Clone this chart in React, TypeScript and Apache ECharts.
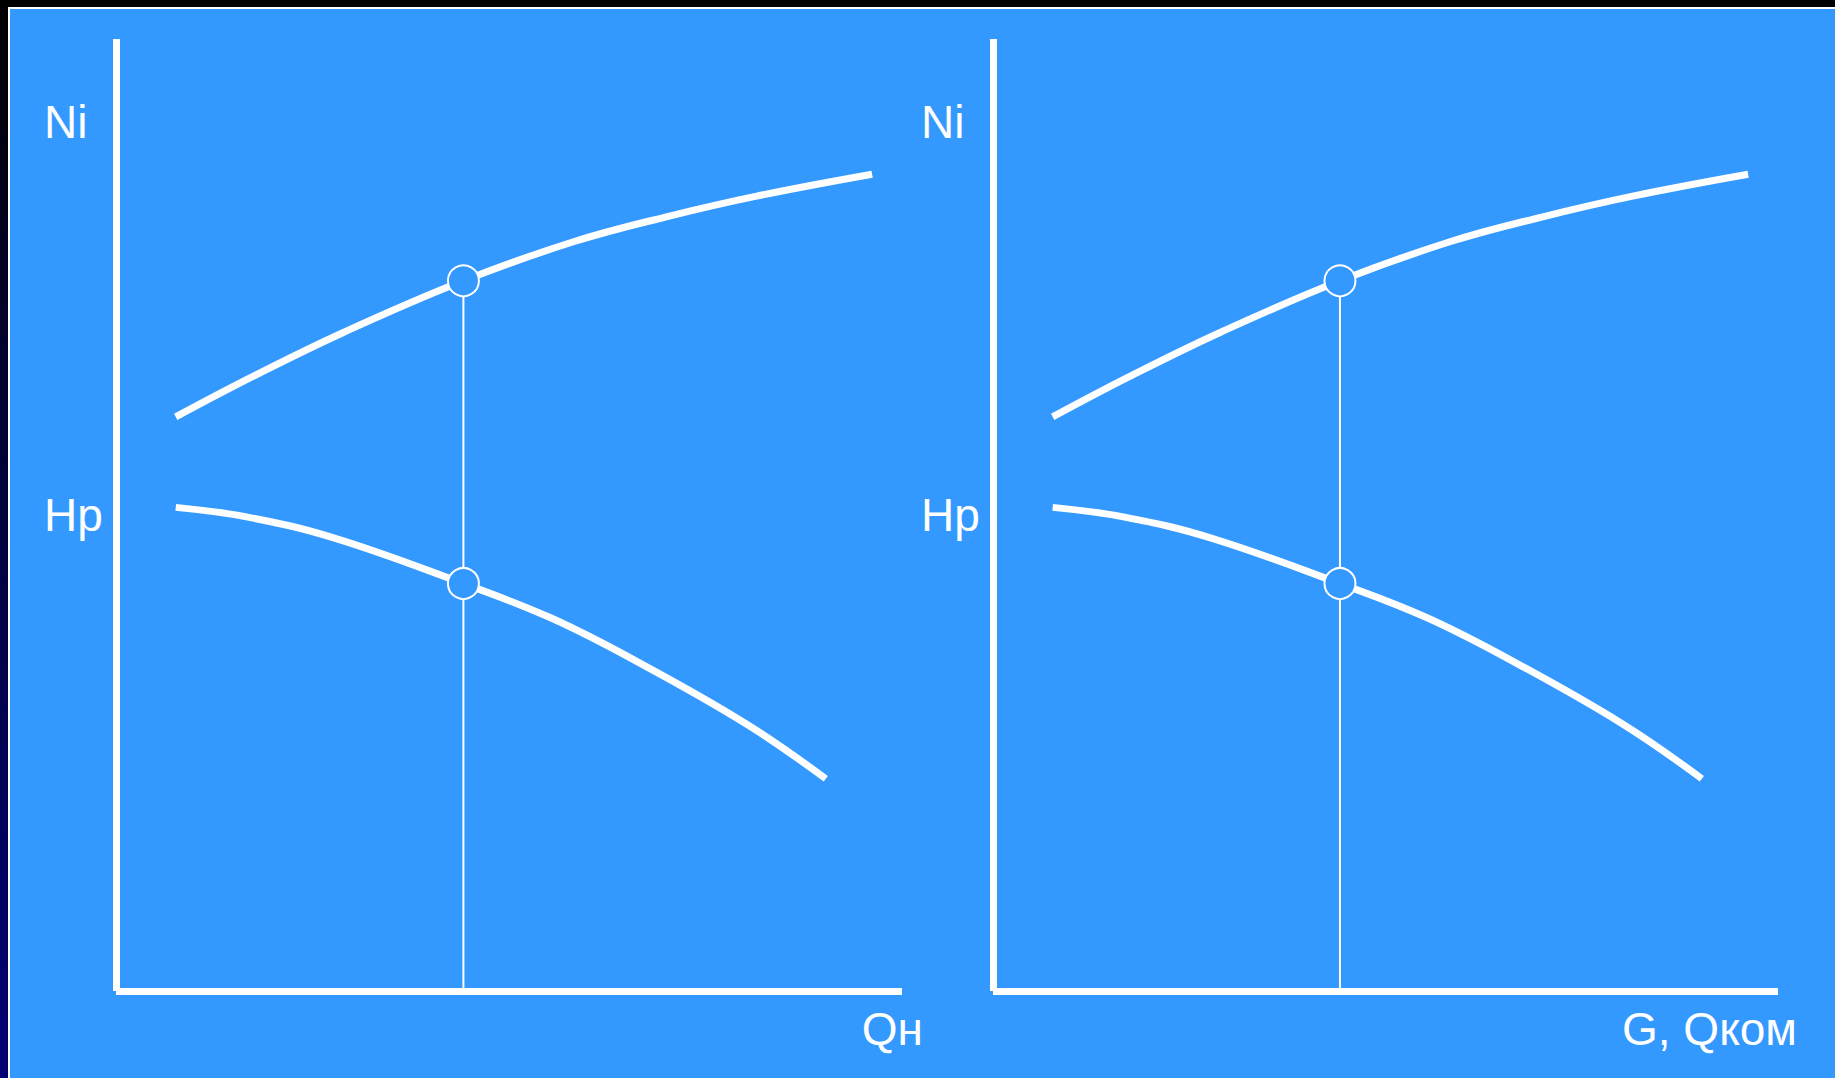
import React, { useEffect, useRef } from "react";
import * as echarts from "echarts";

// Curve data (arbitrary units: x = flow 0..100, y = 0..100)
const niCurve: [number, number][] = [
  [7.6, 60.3], [17.3, 64.5], [29.0, 69.2], [44.2, 74.6],
  [58.2, 78.7], [69.9, 81.3], [81.5, 83.5], [96.2, 85.8],
];
const hpCurve: [number, number][] = [
  [7.6, 50.8], [16.6, 49.8], [27.7, 47.6], [44.2, 42.8],
  [55.3, 39.2], [66.3, 34.6], [80.1, 28.1], [90.3, 22.3],
];
const operatingQ = 44.2;
const operatingNi = 74.6;
const operatingHp = 42.8;

const yLabelNames = ["Ni", "Hp"];
const yLabelValues = [91.3, 50.0];
const xAxisNames = ["Qн", "G, Qком"];

const BLUE = "#3399FF";
const WHITE = "#FFFFFF";
const FONT = "'Liberation Sans', Arial, Helvetica, sans-serif";

const panels = [
  { left: 116, width: 786 },
  { left: 993, width: 785 },
];
const GRID_TOP = 39;
const GRID_HEIGHT = 952;

export default function App() {
  const ref = useRef<HTMLDivElement>(null);

  useEffect(() => {
    if (!ref.current) return;
    const chart = echarts.init(ref.current, null, { renderer: "svg" });

    const grids = panels.map((p) => ({
      left: p.left,
      top: GRID_TOP,
      width: p.width,
      height: GRID_HEIGHT,
      containLabel: false,
    }));

    const axisLineStyle = { color: WHITE, width: 7, cap: "butt" };

    const xAxes = panels.map((_, i) => ({
      type: "value",
      gridIndex: i,
      min: 0,
      max: 100,
      axisLine: { show: true, onZero: false, lineStyle: axisLineStyle },
      axisTick: { show: false },
      axisLabel: { show: false },
      splitLine: { show: false },
    }));

    const yAxes = panels.map((_, i) => ({
      type: "value",
      gridIndex: i,
      min: 0,
      max: 100,
      axisLine: { show: true, onZero: false, lineStyle: axisLineStyle },
      axisTick: { show: false },
      splitLine: { show: false },
      axisLabel: {
        show: true,
        customValues: yLabelValues,
        formatter: (v: number) => {
          let best = 0;
          let d = Infinity;
          yLabelValues.forEach((yv, k) => {
            if (Math.abs(yv - v) < d) {
              d = Math.abs(yv - v);
              best = k;
            }
          });
          return yLabelNames[best];
        },
        color: WHITE,
        fontSize: 46,
        fontFamily: FONT,
        align: "left",
        margin: 72,
      },
    }));

    const series: any[] = [];
    panels.forEach((_, i) => {
      series.push({
        type: "line",
        xAxisIndex: i,
        yAxisIndex: i,
        data: niCurve,
        smooth: 0.4,
        symbol: "none",
        lineStyle: { color: WHITE, width: 7, cap: "butt" },
        z: 2,
      });
      series.push({
        type: "line",
        xAxisIndex: i,
        yAxisIndex: i,
        data: hpCurve,
        smooth: 0.4,
        symbol: "none",
        lineStyle: { color: WHITE, width: 7, cap: "butt" },
        z: 2,
      });
      series.push({
        type: "line",
        xAxisIndex: i,
        yAxisIndex: i,
        data: [
          [operatingQ, 0],
          [operatingQ, operatingNi],
        ],
        symbol: "none",
        lineStyle: { color: WHITE, width: 2 },
        z: 3,
      });
      series.push({
        type: "scatter",
        xAxisIndex: i,
        yAxisIndex: i,
        data: [
          [operatingQ, operatingNi],
          [operatingQ, operatingHp],
        ],
        symbol: "circle",
        symbolSize: 31,
        itemStyle: { color: BLUE, borderColor: WHITE, borderWidth: 2, opacity: 1 },
        z: 5,
      });
    });

    const nameRight = [923, 1797];

    const option: any = {
      animation: false,
      backgroundColor: BLUE,
      grid: grids,
      xAxis: xAxes,
      yAxis: yAxes,
      series,
      graphic: [
        {
          type: "rect",
          shape: { x: 0, y: 0, width: 1835, height: 7 },
          style: { fill: "#000000" },
          z: 100,
        },
        {
          type: "rect",
          shape: { x: 0, y: 7, width: 1835, height: 2 },
          style: { fill: WHITE },
          z: 100,
        },
        {
          type: "rect",
          shape: { x: 0, y: 0, width: 8, height: 1078 },
          style: {
            fill: new echarts.graphic.LinearGradient(0, 0, 0, 1, [
              { offset: 0, color: "#000000" },
              { offset: 0.3, color: "#00002a" },
              { offset: 1, color: "#000074" },
            ]),
          },
          z: 101,
        },
        {
          type: "rect",
          shape: { x: 8, y: 7, width: 2, height: 1071 },
          style: { fill: WHITE },
          z: 101,
        },
        ...xAxisNames.map((t, i) => ({
          type: "text",
          x: nameRight[i],
          y: 1029,
          style: {
            text: t,
            fill: WHITE,
            font: `46px ${FONT}`,
            align: "right",
            verticalAlign: "middle",
          },
          z: 50,
        })),
      ],
    };

    chart.setOption(option);
    return () => chart.dispose();
  }, []);

  return (
    <div
      ref={ref}
      style={{ position: "absolute", left: 0, top: 0, width: 1835, height: 1078 }}
    />
  );
}
